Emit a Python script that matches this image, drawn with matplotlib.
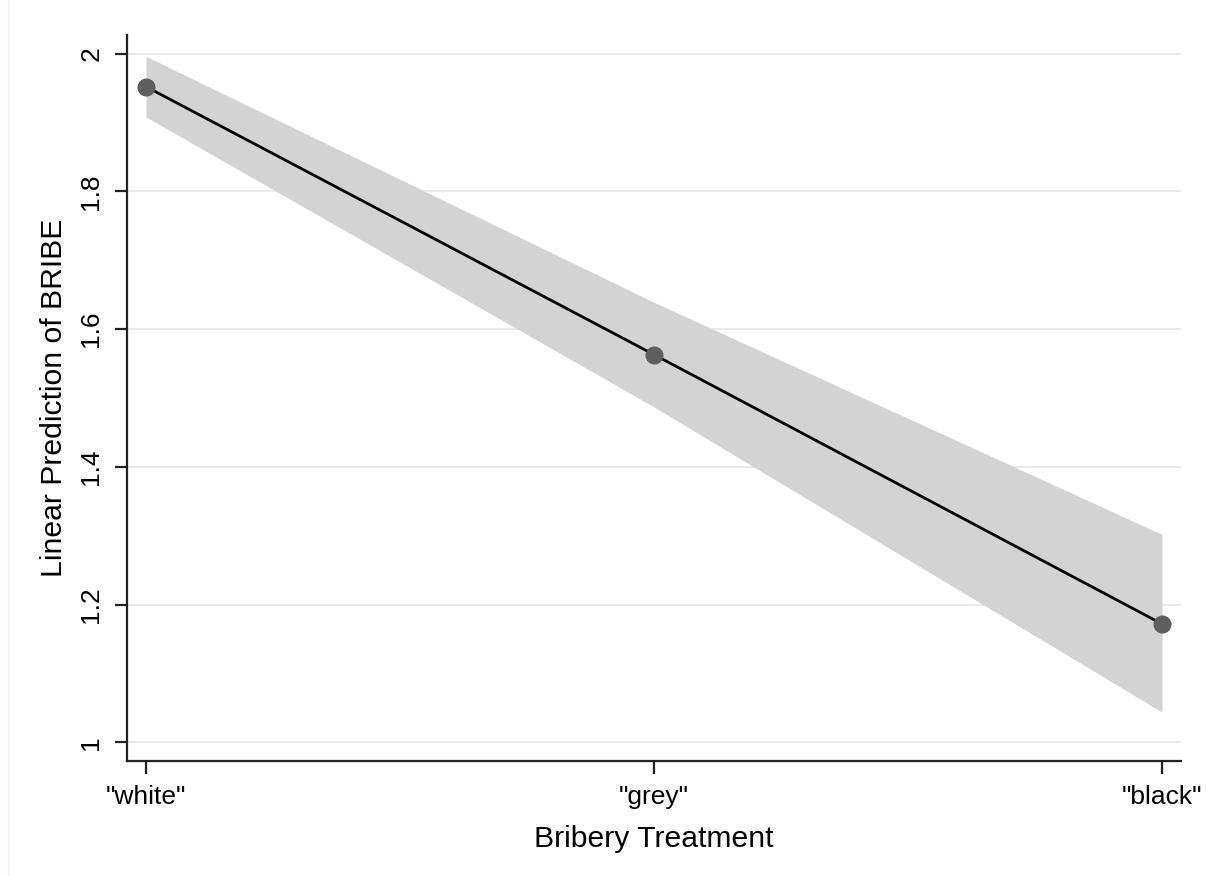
import matplotlib
matplotlib.use("Agg")
import matplotlib.pyplot as plt
from matplotlib.lines import Line2D

plt.rcParams['font.family'] = ['Liberation Sans', 'DejaVu Sans']

# margins output: linear prediction of BRIBE by treatment
categories = ['"white"', '"grey"', '"black"']
margin = [1.952, 1.563, 1.172]
ci_low = [1.908, 1.487, 1.044]
ci_high = [1.996, 1.639, 1.302]
yticks = [1, 1.2, 1.4, 1.6, 1.8, 2]
ytick_labels = ['1', '1.2', '1.4', '1.6', '1.8', '2']

fig = plt.figure(figsize=(12.06, 8.76), dpi=100)
ax = fig.add_axes([127/1206, 1-761/876, (1181-127)/1206, (761-35)/876])

x = list(range(len(categories)))
ax.fill_between(x, ci_low, ci_high, color='#d3d3d3', linewidth=0, zorder=1)
ax.plot(x, margin, color='black', linewidth=2.0, zorder=3)
ax.plot(x, margin, 'o', color='#5f5f5f', markersize=12, zorder=4)

ax.set_xlim(-0.0374, 2.0374)
ax.set_ylim(0.973, 2.027)
ax.set_xticks(x)
ax.set_xticklabels(categories, fontsize=19)
ax.set_yticks(yticks)
ax.set_yticklabels(ytick_labels, fontsize=19, rotation=90, va='center')

ax.grid(axis='y', color='#e6e6e6', linewidth=1.2, zorder=0)
ax.set_axisbelow(True)
for s in ['top', 'right']:
    ax.spines[s].set_visible(False)
for s in ['left', 'bottom']:
    ax.spines[s].set_linewidth(1.6)
    ax.spines[s].set_color('#222222')
ax.tick_params(axis='both', length=9, width=1.6, color='#222222', pad=8)

ax.set_xlabel('Bribery Treatment', fontsize=21.7, labelpad=12)
ax.set_ylabel('Linear Prediction of BRIBE', fontsize=21.7, labelpad=8)

# faint graph region edge
fig.add_artist(Line2D([8/1206, 8/1206], [0, 1], color='#f2f2f2', linewidth=1))

fig.savefig('out.png', dpi=100)
